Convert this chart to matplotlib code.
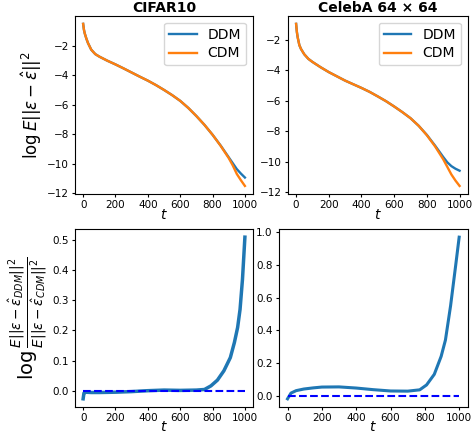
import matplotlib
matplotlib.use("Agg")
import matplotlib.pyplot as plt

# timesteps sampled for the top panels
T_TOP = [0, 5, 10, 20, 30, 50, 75, 100, 150, 200, 250, 300, 350, 400, 450,
         500, 550, 600, 650, 700, 750, 800, 850, 900, 925, 950, 975, 1000]

CIFAR_DDM = [-0.5, -0.9, -1.15, -1.5, -1.8, -2.25, -2.55, -2.72, -3.0, -3.25,
             -3.52, -3.8, -4.08, -4.35, -4.65, -4.98, -5.33, -5.72, -6.2, -6.75,
             -7.35, -8.02, -8.75, -9.55, -9.95, -10.35, -10.65, -10.92]
CIFAR_CDM = [-0.5, -0.9, -1.15, -1.5, -1.8, -2.25, -2.55, -2.72, -3.0, -3.25,
             -3.52, -3.8, -4.08, -4.35, -4.65, -4.98, -5.33, -5.72, -6.2, -6.75,
             -7.35, -8.02, -8.77, -9.6, -10.1, -10.68, -11.1, -11.49]

CELEBA_DDM = [-0.95, -1.5, -1.85, -2.35, -2.6, -2.95, -3.25, -3.45, -3.8, -4.12,
              -4.4, -4.68, -4.92, -5.16, -5.42, -5.72, -6.03, -6.38, -6.75, -7.15,
              -7.65, -8.25, -8.95, -9.7, -10.05, -10.3, -10.47, -10.6]
CELEBA_CDM = [-0.95, -1.5, -1.85, -2.35, -2.6, -2.95, -3.25, -3.45, -3.8, -4.12,
              -4.4, -4.68, -4.92, -5.16, -5.42, -5.72, -6.03, -6.38, -6.75, -7.15,
              -7.65, -8.27, -9.0, -9.85, -10.35, -10.85, -11.25, -11.6]

# log-ratio panels
T_CIFAR_RATIO = [0, 5, 15, 50, 100, 200, 300, 400, 500, 600, 700, 750, 790,
                 830, 870, 910, 935, 955, 970, 985, 1000]
CIFAR_RATIO = [-0.027, -0.008, -0.005, -0.006, -0.006, -0.005, -0.003, 0.0,
               0.002, 0.001, 0.002, 0.004, 0.016, 0.035, 0.066, 0.11, 0.16,
               0.21, 0.27, 0.37, 0.51]

T_CELEBA_RATIO = [0, 20, 50, 95, 150, 200, 300, 400, 500, 600, 700, 770,
                  810, 855, 895, 920, 950, 980, 1000]
CELEBA_RATIO = [-0.02, 0.015, 0.03, 0.04, 0.047, 0.052, 0.053, 0.046, 0.036,
                0.028, 0.027, 0.035, 0.065, 0.13, 0.24, 0.34, 0.55, 0.8, 0.97]

TITLES = ["CIFAR10", "CelebA 64 × 64"]
BLUE = "#1f77b4"
ORANGE = "#ff7f0e"


def main():
    fig = plt.figure(figsize=(4.72, 4.38), dpi=100)
    ax_tl = fig.add_axes([0.159, 0.557, 0.377, 0.407])
    ax_tr = fig.add_axes([0.610, 0.557, 0.381, 0.407])
    ax_bl = fig.add_axes([0.159, 0.071, 0.377, 0.406])
    ax_br = fig.add_axes([0.591, 0.071, 0.400, 0.406])

    for ax, ddm, cdm, title in [(ax_tl, CIFAR_DDM, CIFAR_CDM, TITLES[0]),
                                (ax_tr, CELEBA_DDM, CELEBA_CDM, TITLES[1])]:
        ax.plot(T_TOP, ddm, color=BLUE, lw=1.7, label="DDM")
        ax.plot(T_TOP, cdm, color=ORANGE, lw=1.7, label="CDM")
        ax.set_title(title, fontsize=10, fontweight="bold", pad=3)
        ax.legend(loc="upper right", fontsize=10, handlelength=2.0,
                  borderpad=0.35, labelspacing=0.35)
        ax.set_xlabel("$t$", fontsize=10, labelpad=-2)
        ax.set_yticks([-2, -4, -6, -8, -10, -12])
        ax.set_xticks([0, 200, 400, 600, 800, 1000])
        ax.tick_params(labelsize=7.5, length=2.5, pad=2)

    ax_tl.set_ylabel(r"$\log E||\epsilon - \hat{\epsilon}||^2$", fontsize=12, labelpad=2)

    for ax, t, r, w in [(ax_bl, T_CIFAR_RATIO, CIFAR_RATIO, 2.5),
                        (ax_br, T_CELEBA_RATIO, CELEBA_RATIO, 2.2)]:
        ax.plot(t, r, color=BLUE, lw=w)
        ax.plot([0, 1000], [0, 0], "b--", lw=1.5)
        ax.set_xlabel("$t$", fontsize=10, labelpad=-2)
        ax.set_xticks([0, 200, 400, 600, 800, 1000])
        ax.tick_params(labelsize=7.5, length=2.5, pad=2)

    ax_bl.set_yticks([0.0, 0.1, 0.2, 0.3, 0.4, 0.5])
    ax_br.set_yticks([0.0, 0.2, 0.4, 0.6, 0.8, 1.0])
    ax_bl.set_ylabel(r"$\log\frac{E||\epsilon - \hat{\epsilon}_{DDM}||^2}"
                     r"{E||\epsilon - \hat{\epsilon}_{CDM}||^2}$", fontsize=14, labelpad=2)

    fig.savefig("out.png", dpi=100)


if __name__ == "__main__":
    main()
